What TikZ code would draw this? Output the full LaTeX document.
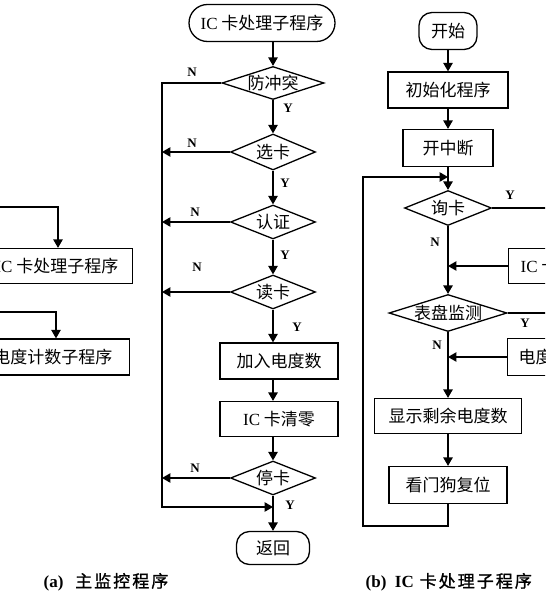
\documentclass[tikz,border=0pt]{standalone}
\usepackage{fontspec}
\setmainfont{Liberation Serif}
\newfontfamily\cjk{Noto Sans CJK SC}
\newfontfamily\capfont[FakeBold=1.2,LetterSpace=12]{Noto Sans CJK SC}
\usetikzlibrary{shapes,arrows,chains,positioning}

\begin{document}
\begin{tikzpicture}[%
    x=1pt, y=-1pt,              % one unit per pixel, y runs downwards
    >=triangle 60,              % small filled heads
    line width=1.3pt,
    ]
% -------------------------------------------------
% Box styles
\tikzset{
  base/.style={draw, align=center, inner sep=0pt, text height=13pt, text depth=0pt,
    font=\cjk\fontsize{17}{19}\selectfont},
  proc/.style={base, rectangle},
  test/.style={base, diamond, aspect=3},
  term/.style={base, rectangle, rounded corners=13pt},
  yn/.style={font=\bfseries\fontsize{13}{13}\selectfont, inner sep=0pt},
  capt/.style={anchor=west, inner sep=0pt, font=\capfont\fontsize{17}{19}\selectfont},
}
\useasboundingbox (0,0) rectangle (545,601);
\clip (0,0) rectangle (545,601);
% -------------------------------------------------
% Left part (cut off)
\node [proc, anchor=east, inner xsep=14pt, minimum height=35pt] (suba) at (133,266)
  {{\rmfamily IC} 卡处理子程序};
\node [proc, anchor=east, inner xsep=17pt, minimum height=36pt] (subb) at (130,357)
  {电度计数子程序};
\coordinate (ina) at (-5,207);
\coordinate (ka) at (58,207);
\coordinate (inb) at (-5,312);
\coordinate (kb) at (56,312);
\draw [->] (ina) -- (ka) -- (ka |- suba.north);
\draw [->] (inb) -- (kb) -- (kb |- subb.north);
% -------------------------------------------------
% Middle column
\node [base, rounded rectangle, minimum width=146pt, minimum height=37pt] (start) at (262,23)
  {{\rmfamily IC} 卡处理子程序};
\node [test, minimum width=102pt, minimum height=33pt] (d1) at (273,83) {防冲突};
\node [test, minimum width=85pt, minimum height=36pt] (d2) at (273,152) {选卡};
\node [test, minimum width=85pt, minimum height=34pt] (d3) at (273,222) {认证};
\node [test, minimum width=85pt, minimum height=34pt] (d4) at (273,292) {读卡};
\node [proc, minimum width=118pt, minimum height=36pt] (add) at (279,361) {加入电度数};
\node [proc, minimum width=118pt, minimum height=35pt] (clr) at (279,419) {{\rmfamily IC} 卡清零};
\node [test, minimum width=85pt, minimum height=34pt] (d5) at (273,478) {停卡};
\node [term, minimum width=73pt, minimum height=33pt] (end) at (273,548) {返回};

\coordinate (bus) at (162,83);
\coordinate (merge) at (273,507);
\draw [->] (start.south -| d1.north) -- (d1.north);
\draw [->] (d1) -- (d2);
\draw [->] (d2) -- (d3);
\draw [->] (d3) -- (d4);
\draw [->] (d4.south) -- (d4.south |- add.north);
\draw [->] (add.south -| d4.south) -- (d4.south |- clr.north);
\draw [->] (clr.south -| d5.north) -- (d5.north);
\draw [->] (d5) -- (end);
\draw [->] (d1.west) -- (bus) |- (merge);
\draw [->] (d2.west) -- (d2.west -| bus);
\draw [->] (d3.west) -- (d3.west -| bus);
\draw [->] (d4.west) -- (d4.west -| bus);
\draw [->] (d5.west) -- (d5.west -| bus);

\node [yn] (n1) at (192,72) {N};
\node [yn] (n2) at (192,143) {N};
\node [yn] (n3) at (195,212) {N};
\node [yn] (n4) at (197,267) {N};
\node [yn] (n5) at (195,468) {N};
\node [yn] (y1) at (288,108) {Y};
\node [yn] (y2) at (285,183) {Y};
\node [yn] (y3) at (285,255) {Y};
\node [yn] (y4) at (297,327) {Y};
\node [yn] (y5) at (290,505) {Y};
% -------------------------------------------------
% Right column (cut off)
\node [term, minimum width=58pt, minimum height=37pt] (begin) at (448,31) {开始};
\node [proc, minimum width=120pt, minimum height=36pt] (init) at (448,90) {初始化程序};
\node [proc, minimum width=90pt, minimum height=37pt] (inton) at (448,148) {开中断};
\node [test, minimum width=87pt, minimum height=35pt] (query) at (448,208) {询卡};
\node [test, minimum width=118pt, minimum height=37pt] (meter) at (448,313) {表盘监测};
\node [proc, minimum width=147pt, minimum height=35pt] (show) at (448,416) {显示剩余电度数};
\node [proc, minimum width=118pt, minimum height=37pt] (wdog) at (448,485) {看门狗复位};
\node [proc, anchor=west, inner xsep=12pt, minimum height=35pt] (icsub) at (508,266)
  {{\rmfamily IC} 卡处理子程序};
\node [proc, anchor=west, inner xsep=11pt, minimum height=37pt] (kwh) at (507,357)
  {电度计数子程序};

\coordinate (redge) at (560,0);
\coordinate (lin) at (448,177);
\coordinate (lbot) at (448,526);
\coordinate (lx) at (363,0);
\draw [->] (begin) -- (init);
\draw [->] (init) -- (inton);
\draw [->] (inton) -- (query);
\draw [->] (query) -- (meter);
\draw [->] (meter) -- (show);
\draw [->] (show) -- (wdog);
\draw (query.east) -- (query.east -| redge);
\draw (meter.east) -- (meter.east -| redge);
\draw [->] (icsub.west) -- (icsub.west -| query.south);
\draw [->] (kwh.west) -- (kwh.west -| meter.south);
\draw [->] (wdog.south) -- (lbot) -| (lx |- lin) -- (lin);

\node [yn] (y6) at (510,195) {Y};
\node [yn] (n6) at (435,242) {N};
\node [yn] (y7) at (525,323) {Y};
\node [yn] (n7) at (437,345) {N};
% -------------------------------------------------
% Captions
\node [capt] (capa) at (43,582) {{\rmfamily\bfseries (a)}\ \ 主监控程序};
\node [capt] (capb) at (365,582) {{\rmfamily\bfseries (b)\ \ IC} 卡处理子程序};
\end{tikzpicture}
\end{document}
